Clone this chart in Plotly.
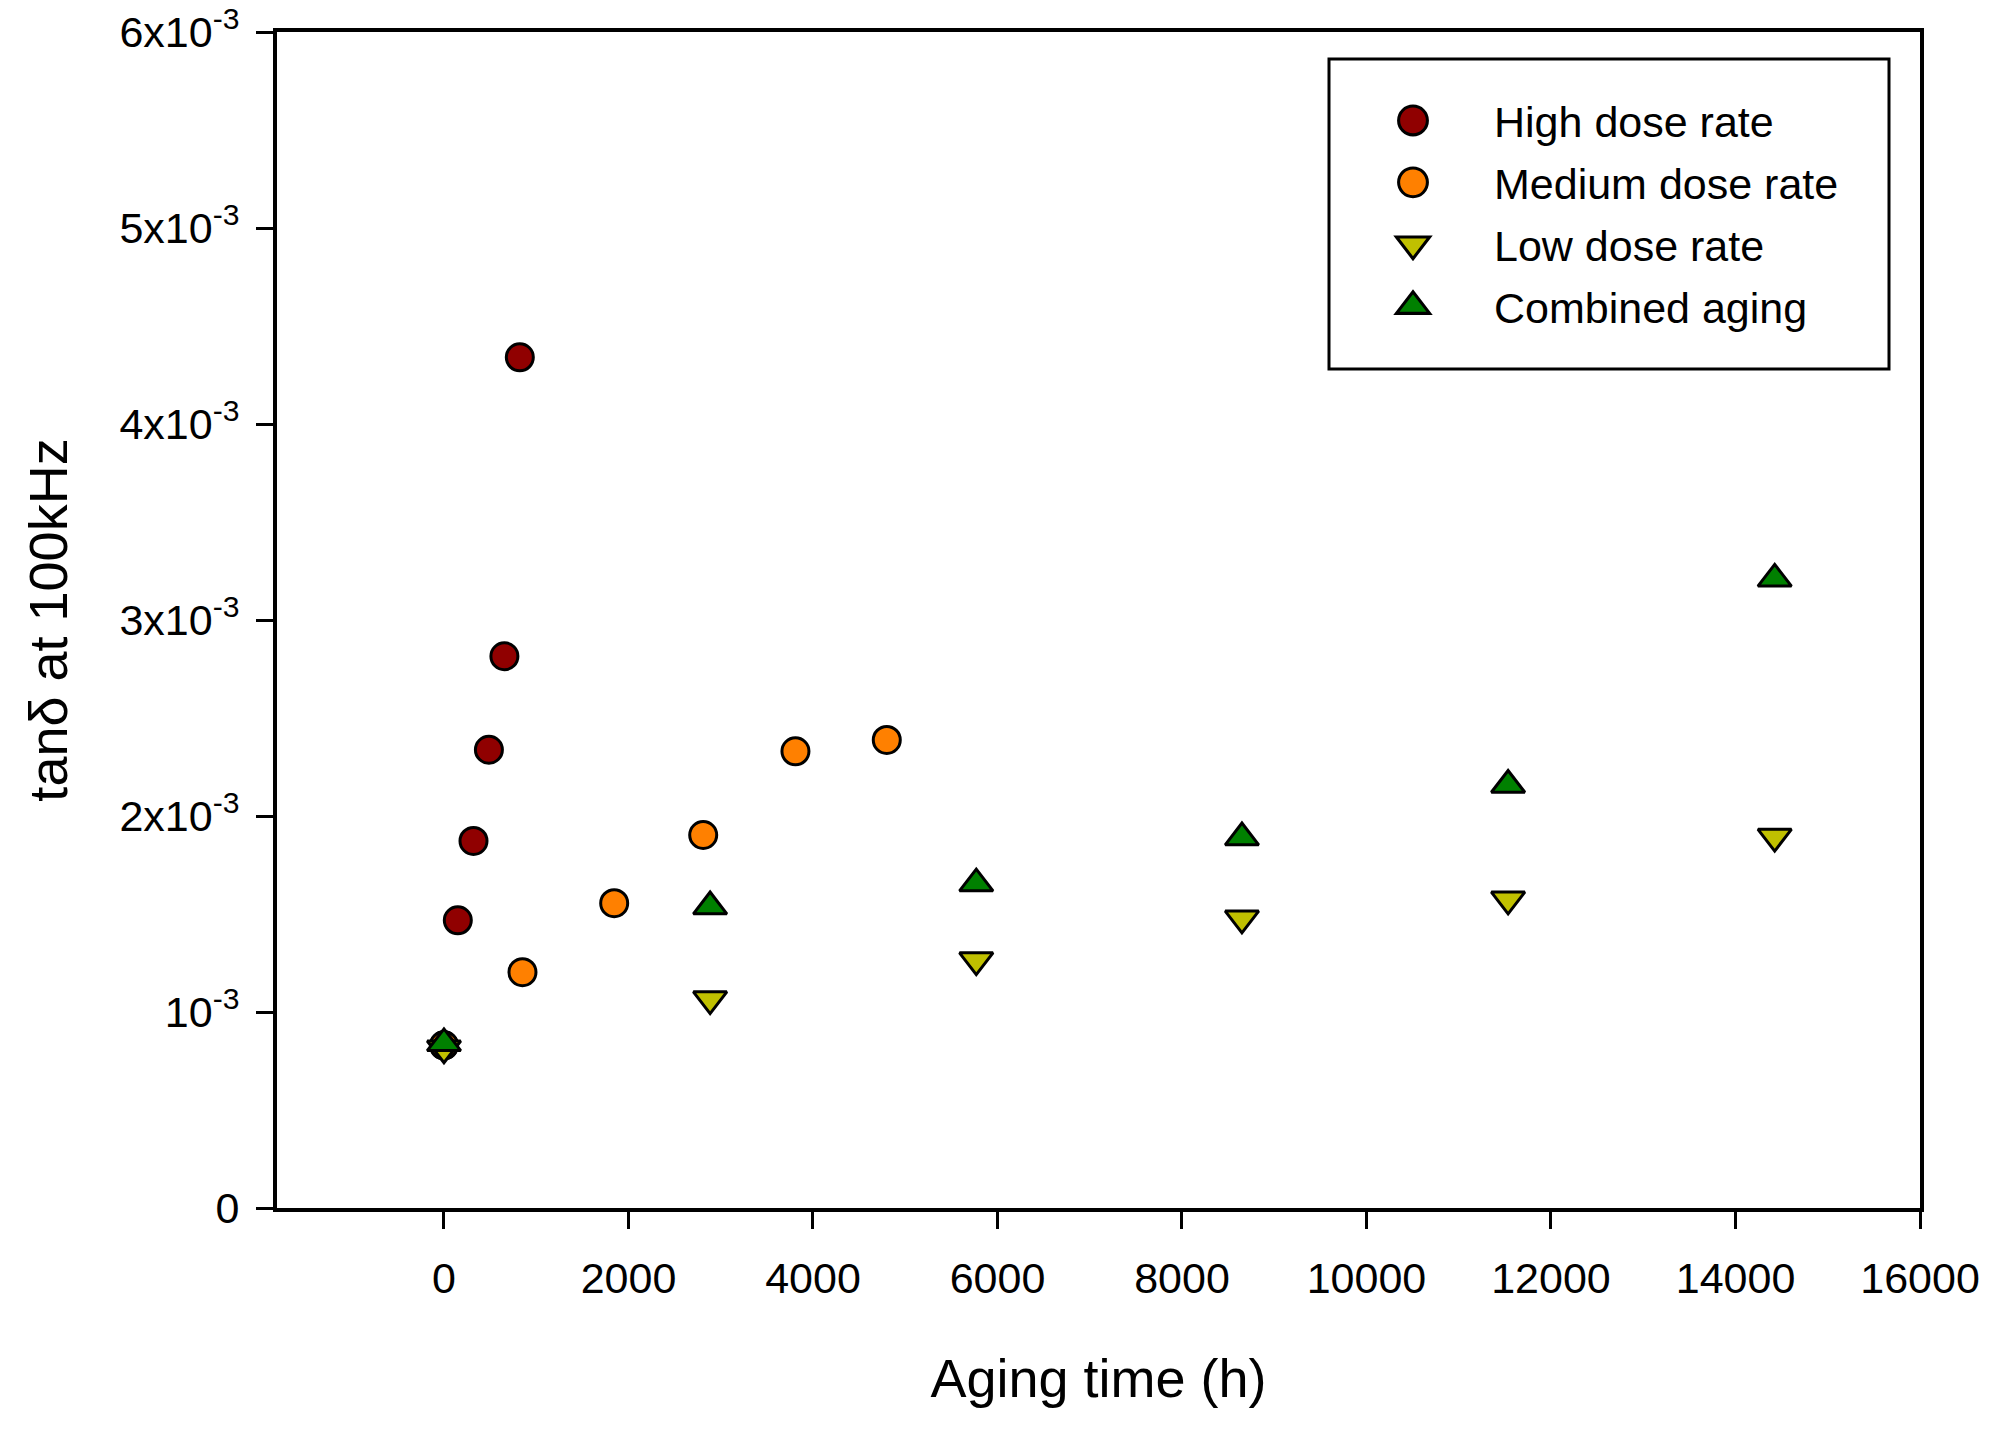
import plotly.graph_objects as go

# ---- data ----
series_names = ["High dose rate", "Medium dose rate", "Low dose rate", "Combined aging"]

high_x = [0, 150, 320, 487, 655, 822]
high_y = [0.83e-3, 1.468e-3, 1.873e-3, 2.338e-3, 2.815e-3, 4.34e-3]

medium_x = [0, 851, 1845, 2810, 3810, 4800]
medium_y = [0.83e-3, 1.203e-3, 1.555e-3, 1.903e-3, 2.330e-3, 2.388e-3]

low_x = [0, 2885, 5770, 8650, 11535, 14425]
low_y = [0.815e-3, 1.066e-3, 1.265e-3, 1.478e-3, 1.575e-3, 1.895e-3]

comb_x = [0, 2885, 5770, 8650, 11535, 14425]
comb_y = [0.84e-3, 1.538e-3, 1.655e-3, 1.89e-3, 2.158e-3, 3.21e-3]

y_tick_vals = [0, 1e-3, 2e-3, 3e-3, 4e-3, 5e-3, 6e-3]
y_tick_text = ["0", "10<sup>-3</sup>", "2x10<sup>-3</sup>", "3x10<sup>-3</sup>",
               "4x10<sup>-3</sup>", "5x10<sup>-3</sup>", "6x10<sup>-3</sup>"]
x_tick_vals = [0, 2000, 4000, 6000, 8000, 10000, 12000, 14000, 16000]
x_tick_text = ["0", "2000", "4000", "6000", "8000", "10000", "12000", "14000", "16000"]

FONT = "Liberation Sans, Arial, sans-serif"

styles = [
    dict(symbol="circle", color="#900000", size=27),
    dict(symbol="circle", color="#FF8000", size=27),
    dict(symbol="triangle-down", color="#C0C000", size=29),
    dict(symbol="triangle-up", color="#008000", size=29),
]
xs = [high_x, medium_x, low_x, comb_x]
ys = [high_y, medium_y, low_y, comb_y]

fig = go.Figure()
for name, x, y, st in zip(series_names, xs, ys, styles):
    fig.add_trace(go.Scatter(
        x=x, y=y, mode="markers", name=name, legendgroup=name,
        marker=dict(symbol=st["symbol"], size=st["size"], color=st["color"],
                    line=dict(color="black", width=3)),
    ))

# page has an 8px body margin; compensate so the plot area lands where the reference has it
OFF = 8
W, H = 2000 - OFF, 1431 - OFF
ml, mr, mt, mb = 277 - OFF, 80, 32 - OFF, 223
pw, ph = W - ml - mr, H - mt - mb

def px_to_paper_x(px):
    return (px - OFF - ml) / pw

def px_to_paper_y(py):
    return 1 - (py - OFF - mt) / ph

fig.update_layout(
    width=W, height=H,
    margin=dict(l=ml, r=mr, t=mt, b=mb, autoexpand=False),
    paper_bgcolor="white", plot_bgcolor="white",
    font=dict(family=FONT, color="black", size=43),
    showlegend=True,
    legend=dict(
        x=px_to_paper_x(1332), y=px_to_paper_y(86),
        xanchor="left", yanchor="top",
        bgcolor="rgba(0,0,0,0)", borderwidth=0,
        font=dict(family=FONT, size=43, color="black"),
        itemwidth=152, tracegroupgap=3,
    ),
    xaxis=dict(
        range=[-1810, 16000], tickvals=x_tick_vals, ticktext=x_tick_text,
        showgrid=False, zeroline=False, automargin=False,
        showline=True, linecolor="black", linewidth=4, mirror=True,
        ticks="outside", ticklen=17, tickwidth=3, tickcolor="black",
        ticklabelstandoff=12, ticklabeloverflow="allow",
        tickfont=dict(family=FONT, size=43, color="black"),
        title=dict(text="Aging time (h)", font=dict(family=FONT, size=54, color="black"), standoff=60),
    ),
    yaxis=dict(
        range=[0, 6e-3], tickvals=y_tick_vals, ticktext=y_tick_text,
        showgrid=False, zeroline=False, automargin=False,
        showline=True, linecolor="black", linewidth=4, mirror=True,
        ticks="outside", ticklen=17, tickwidth=3, tickcolor="black",
        ticklabelstandoff=8, ticklabeloverflow="allow",
        tickfont=dict(family=FONT, size=43, color="black"),
        title=dict(text="tanδ at 100kHz", font=dict(family=FONT, size=54, color="black"), standoff=35),
    ),
    shapes=[dict(
        type="rect", xref="paper", yref="paper",
        x0=px_to_paper_x(1329), x1=px_to_paper_x(1889),
        y0=px_to_paper_y(369), y1=px_to_paper_y(59),
        line=dict(color="black", width=3), fillcolor="rgba(0,0,0,0)",
    )],
)

# enlarge legend symbols (plotly caps them at 16px) to match the reference's larger symbols
post_js = """
var gd = document.getElementById('{plot_id}');
function enlargeLegend() {
  gd.querySelectorAll('.legendpoints path.scatterpts').forEach(function (p) {
    var t = p.getAttribute('transform') || '';
    if (t.indexOf('scale') < 0) {
      p.setAttribute('transform', t + ' scale(1.8)');
      p.style.strokeWidth = '1.7px';
    }
  });
}
enlargeLegend();
if (gd.on) { gd.on('plotly_afterplot', enlargeLegend); }
setTimeout(enlargeLegend, 50);
setTimeout(enlargeLegend, 300);
"""

fig.write_html("out.html", post_script=post_js)
